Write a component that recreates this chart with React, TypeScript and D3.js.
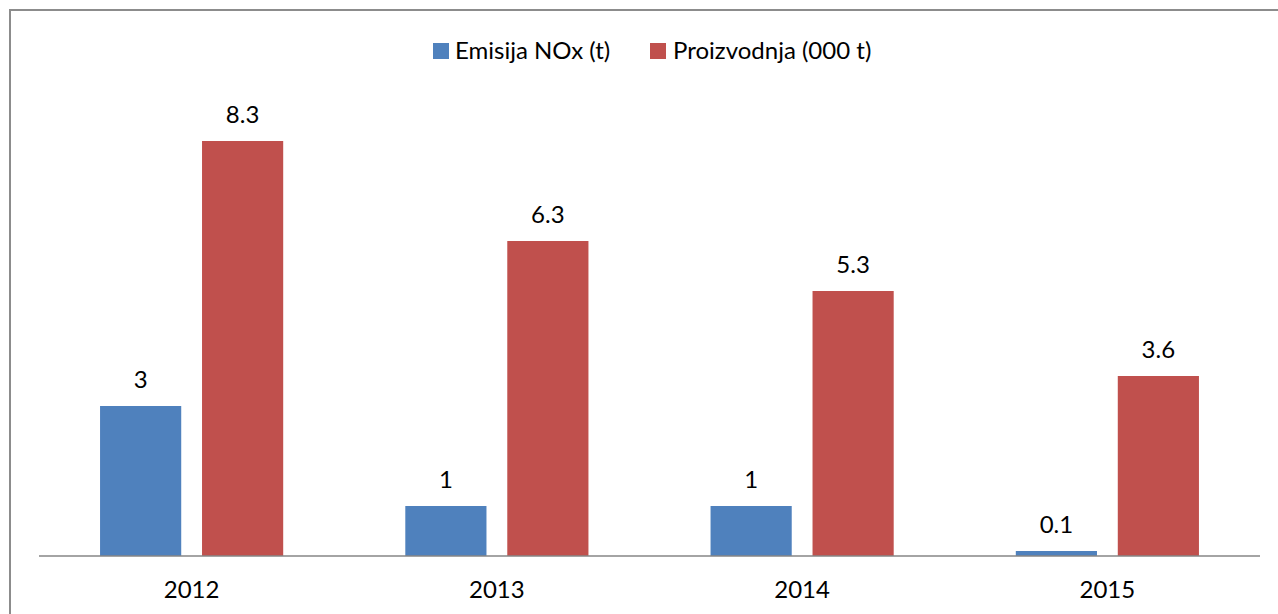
import React from "react";
import * as d3 from "d3";

const categories = ["2012", "2013", "2014", "2015"];
const seriesNames = ["Emisija NOx (t)", "Proizvodnja (000 t)"];
const emisija = [3, 1, 1, 0.1];
const proizvodnja = [8.3, 6.3, 5.3, 3.6];
const colors = ["#4F81BD", "#C0504D"];

const W = 1278;
const H = 614;
const FONT = "Lato, 'Open Sans', sans-serif";
const FS = 24;

export default function App() {
  const left = 39;
  const right = 1260;
  const base = 556;
  const x0 = d3.scaleBand<string>().domain(categories).range([left, right]).paddingInner(0.4).paddingOuter(0.2);
  const x1 = d3.scaleBand<string>().domain(seriesNames).range([0, x0.bandwidth()]).paddingInner(0.204).paddingOuter(0);
  const y = d3.scaleLinear().domain([0, 10]).range([base, base - 500]);
  const values = [emisija, proizvodnja];

  return (
    <svg width={W} height={H} style={{ position: "absolute", left: 0, top: 0, background: "#fff" }} fontFamily={FONT}>
      <rect x={10} y={10} width={1400} height={800} fill="#fff" stroke="#8c8c8c" strokeWidth={2} />
      {values.map((vals, si) =>
        categories.map((c, ci) => {
          const bx = (x0(c) ?? 0) + (x1(seriesNames[si]) ?? 0);
          const bw = x1.bandwidth();
          const v = vals[ci];
          return (
            <g key={`${si}-${ci}`}>
              <rect x={bx} y={y(v)} width={bw} height={base - y(v)} fill={colors[si]} />
              <text x={bx + bw / 2} y={y(v) - 18} textAnchor="middle" fontSize={FS} fill="#000">
                {String(v)}
              </text>
            </g>
          );
        })
      )}
      <line x1={left} x2={right} y1={base} y2={base} stroke="#868686" strokeWidth={1.5} />
      {categories.map((c) => (
        <text key={c} x={(x0(c) ?? 0) + x0.bandwidth() / 2} y={598} textAnchor="middle" fontSize={FS} fill="#000">
          {c}
        </text>
      ))}
      <g>
        <rect x={433} y={43} width={16} height={16} fill={colors[0]} />
        <text x={455} y={59} fontSize={FS} fill="#000">{seriesNames[0]}</text>
        <rect x={650} y={43} width={16} height={16} fill={colors[1]} />
        <text x={673} y={59} fontSize={FS} fill="#000">{seriesNames[1]}</text>
      </g>
    </svg>
  );
}
